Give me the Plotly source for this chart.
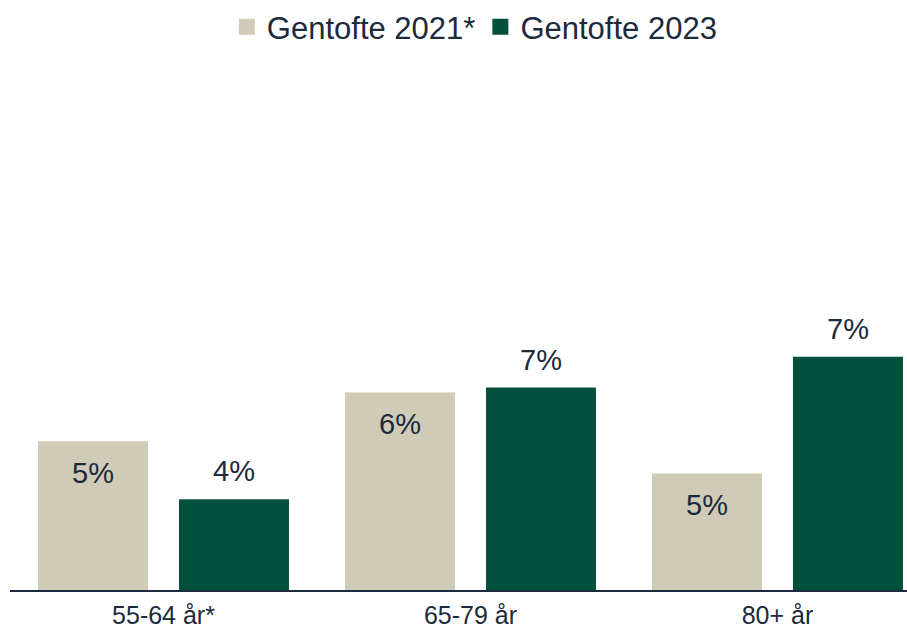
import plotly.graph_objects as go

# Aldersgrupper og andele (%)
categories = ["55-64 år*", "65-79 år", "80+ år"]
series_names = ["Gentofte 2021*", "Gentofte 2023"]
values_2021 = [5.34, 6.44, 4.62]
values_2023 = [4.04, 6.55, 7.24]

beige = "#D0CBB6"
green = "#03503C"
text_color = "#1B2A3C"
font_family = "Arial, Liberation Sans, sans-serif"

fig = go.Figure()
fig.add_trace(go.Bar(x=categories, y=values_2021, name=series_names[0],
                     marker=dict(color=beige, line=dict(width=0)),
                     showlegend=False, hoverinfo="skip"))
fig.add_trace(go.Bar(x=categories, y=values_2023, name=series_names[1],
                     marker=dict(color=green, line=dict(width=0)),
                     showlegend=False, hoverinfo="skip"))

# legend-kvadrater
for name, col in zip(series_names, [beige, green]):
    fig.add_trace(go.Scatter(x=[None], y=[None], mode="markers", name=name,
                             marker=dict(symbol="square", size=16, color=col)))

# dataetiketter: 2021 inde i søjlen, 2023 over søjlen
for cat, v in zip(categories, values_2021):
    fig.add_annotation(x=cat, y=v, text=f"{v:.0f}%", showarrow=False,
                       xshift=-70.5, yshift=-32, yanchor="middle",
                       font=dict(size=29, color=text_color, family=font_family))
for cat, v in zip(categories, values_2023):
    fig.add_annotation(x=cat, y=v, text=f"{v:.0f}%", showarrow=False,
                       xshift=70.5, yshift=28, yanchor="middle",
                       font=dict(size=29, color=text_color, family=font_family))

fig.update_layout(
    width=907, height=631,
    margin=dict(l=10, r=0, t=60, b=41),
    barmode="group", bargap=0.0814, bargroupgap=0.22,
    plot_bgcolor="white", paper_bgcolor="white",
    font=dict(family=font_family, color=text_color),
    legend=dict(orientation="h", xref="container", yref="container",
                x=0.5235, xanchor="center", y=0.957, yanchor="middle",
                font=dict(size=31, color=text_color),
                itemclick=False, itemdoubleclick=False),
)
fig.update_xaxes(range=[-0.5, 2.422], showgrid=False, showline=True,
                 linecolor=text_color, linewidth=2, ticks="",
                 tickfont=dict(size=25, color=text_color),
                 ticklabelstandoff=2, automargin=False, fixedrange=True)
fig.update_yaxes(range=[2, 2 + 530 / 44.5], visible=False, showgrid=False,
                 zeroline=False, automargin=False, fixedrange=True)

# siden skal ikke have browserens standardmargen
fig.write_html("out.html", config={"displayModeBar": False},
               post_script="document.body.style.margin='0';")
